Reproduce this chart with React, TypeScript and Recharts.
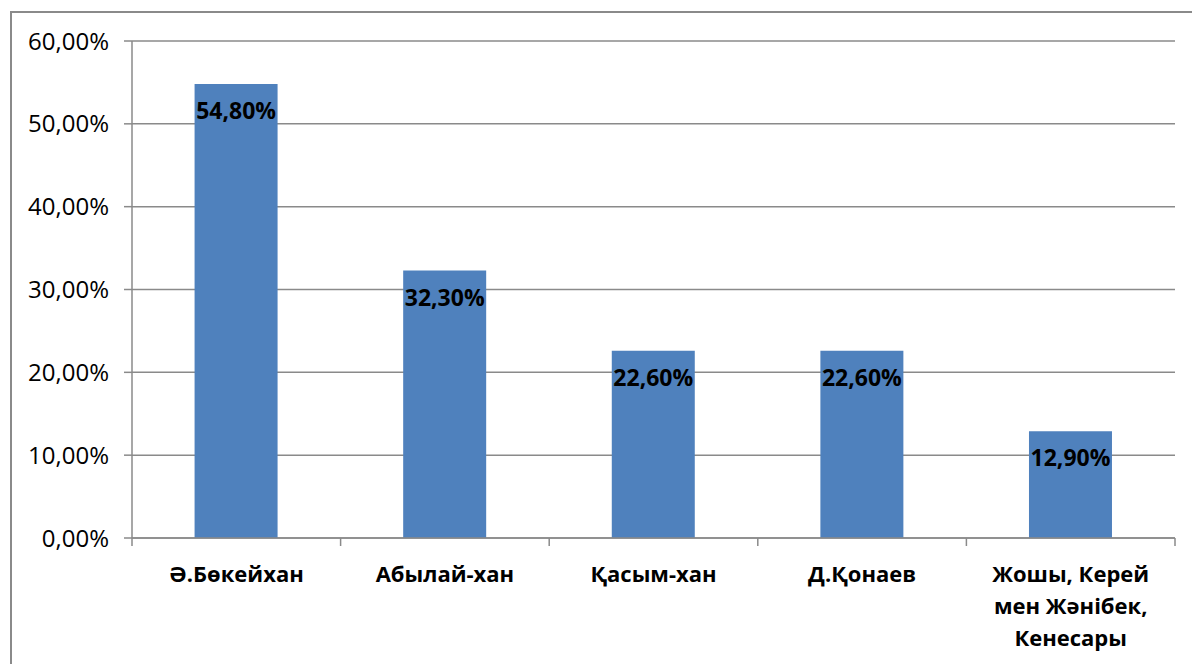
import { BarChart, Bar, XAxis, YAxis, CartesianGrid, LabelList } from "recharts";

const names = [
  "Ә.Бөкейхан",
  "Абылай-хан",
  "Қасым-хан",
  "Д.Қонаев",
  "Жошы, Керей\nмен Жәнібек,\nКенесары",
];
const shares = [54.8, 32.3, 22.6, 22.6, 12.9];
const yTicks = [0, 10, 20, 30, 40, 50, 60];

const data = names.map((name, i) => ({ name, value: shares[i] }));

const FONT = "'Open Sans', 'Noto Sans', sans-serif";
const GRAY = "#8a8a8a";

const W = 1192;
const H = 664;
const MARGIN = { top: 41, right: 17, left: 10, bottom: 26 };
const Y_AXIS_W = 122;
// width of one category band, used for the boundary tick marks
const BAND = (W - MARGIN.left - MARGIN.right - Y_AXIS_W) / names.length;

const pct = (v: number) => v.toFixed(2).replace(".", ",") + "%";

function CategoryTick(props: any) {
  const { x, y, payload, index } = props;
  const lines = String(payload.value).split("\n");
  const left = x - BAND / 2;
  const right = x + BAND / 2;
  return (
    <g>
      <line x1={left} y1={y} x2={left} y2={y + 8} stroke={GRAY} strokeWidth={1.5} />
      {index === names.length - 1 && (
        <line x1={right} y1={y} x2={right} y2={y + 8} stroke={GRAY} strokeWidth={1.5} />
      )}
      <text
        x={x}
        y={y}
        textAnchor="middle"
        fontFamily={FONT}
        fontWeight="bold"
        fontSize={22}
        fill="#000"
      >
        {lines.map((l, i) => (
          <tspan key={i} x={x} dy={i === 0 ? 44 : 32}>
            {l}
          </tspan>
        ))}
      </text>
    </g>
  );
}

export default function App() {
  return (
    <div
      style={{
        position: "absolute",
        left: 0,
        top: 0,
        width: W,
        height: H,
        overflow: "hidden",
        background: "#fff",
      }}
    >
      <div
        style={{
          position: "absolute",
          left: 10,
          top: 11,
          width: 1200,
          height: 700,
          border: `2px solid ${GRAY}`,
          boxSizing: "border-box",
        }}
      />
      <BarChart
        width={W}
        height={H}
        data={data}
        margin={MARGIN}
        barCategoryGap="30%"
        style={{ position: "absolute", left: 0, top: 0 }}
      >
        <CartesianGrid vertical={false} stroke={GRAY} strokeWidth={1.5} />
        <XAxis
          dataKey="name"
          height={100}
          stroke={GRAY}
          strokeWidth={1.5}
          tickLine={false}
          tickSize={0}
          tickMargin={0}
          tick={<CategoryTick />}
          interval={0}
        />
        <YAxis
          width={Y_AXIS_W}
          domain={[0, 60]}
          ticks={yTicks}
          tickFormatter={pct}
          stroke={GRAY}
          strokeWidth={1.5}
          tickSize={8}
          tickMargin={15}
          tick={{ fill: "#000", fontFamily: FONT, fontSize: 24 }}
        />
        <Bar dataKey="value" fill="#4F81BD" isAnimationActive={false}>
          <LabelList
            dataKey="value"
            position="insideTop"
            offset={19}
            formatter={(v: any) => pct(Number(v))}
            fill="#000"
            fontFamily={FONT}
            fontWeight="bold"
            fontSize={23}
          />
        </Bar>
      </BarChart>
    </div>
  );
}
